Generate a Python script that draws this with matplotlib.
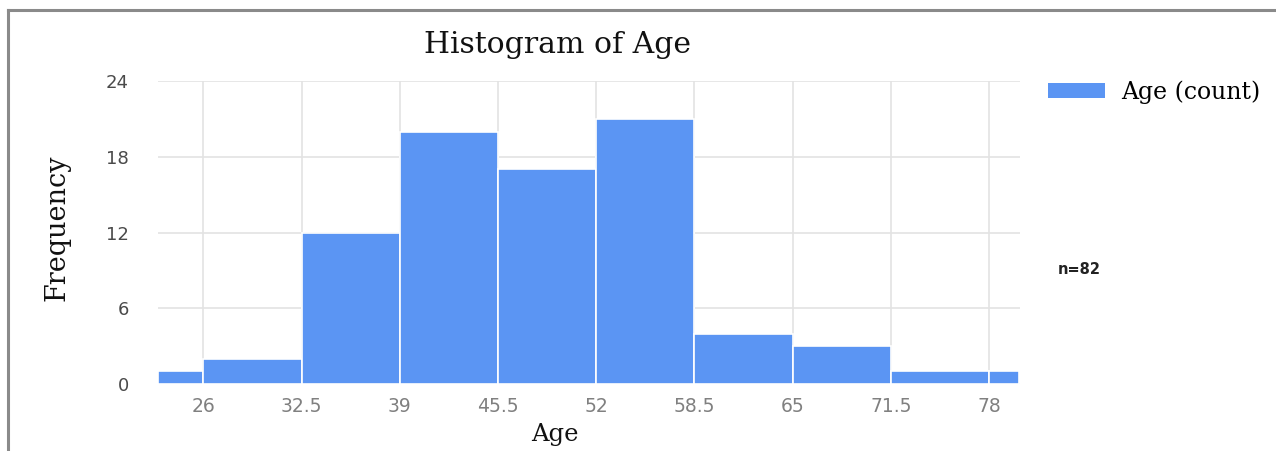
import numpy as np
import matplotlib.pyplot as plt
from matplotlib.lines import Line2D
from matplotlib.patches import Patch

# age histogram: bin edges and counts per bin
bin_edges = [23, 26, 32.5, 39, 45.5, 52, 58.5, 65, 71.5, 78, 80]
counts = [1, 2, 12, 20, 17, 21, 4, 3, 1, 1]
x_ticks = [26, 32.5, 39, 45.5, 52, 58.5, 65, 71.5, 78]
x_labels = ['26', '32.5', '39', '45.5', '52', '58.5', '65', '71.5', '78']
y_ticks = [0, 6, 12, 18, 24]
n_total = sum(counts)

bar_color = '#5b95f3'
grid_color = '#e3e3e3'
serif = 'DejaVu Serif'
W, H = 1276, 451

fig = plt.figure(figsize=(12.76, 4.51), dpi=100)
ax = fig.add_axes([158 / W, 1 - 384 / H, 862 / W, 303 / H])

left = np.array(bin_edges[:-1])
widths = np.diff(bin_edges)
ax.bar(left, counts, width=widths, align='edge', color=bar_color,
       edgecolor='white', linewidth=1.2, zorder=3)

ax.set_xlim(23, 80.05)
ax.set_ylim(0, 24)
ax.set_xticks(x_ticks)
ax.set_xticklabels(x_labels)
ax.set_yticks(y_ticks)
ax.grid(True, color=grid_color, linewidth=1.2, zorder=0)
ax.tick_params(length=0)
ax.tick_params(axis='x', pad=9, labelsize=13.5, labelcolor='#808080')
ax.tick_params(axis='y', pad=21, labelsize=13, labelcolor='#4a4a4a')
for s in ax.spines.values():
    s.set_visible(False)

fig.text(558 / W, 1 - 45 / H, 'Histogram of Age', family=serif, fontsize=21.5,
         ha='center', va='center', color='#111111')
ax.set_xlabel('Age', family=serif, fontsize=17.5, color='#111111')
ax.xaxis.set_label_coords((555 - 158) / 862, (384 - 434) / 303)
ax.xaxis.label.set_va('center')
ax.set_ylabel('Frequency', family=serif, fontsize=19.5, color='#111111')
ax.yaxis.set_label_coords((57 - 158) / 862, 0.5 + (384 - 228 - 151.5) / 303)
ax.yaxis.label.set_va('center')

handles = [Patch(facecolor=bar_color, edgecolor='none', label='Age (count)')]
fig.legend(handles=handles, loc='upper left', bbox_to_anchor=(1048 / W, 1 - 80 / H),
           frameon=False, handlelength=2.4, handleheight=0.62,
           borderpad=0, borderaxespad=0, handletextpad=0.7,
           prop={'family': serif, 'size': 17})

fig.text(1058 / W, 1 - 270 / H, 'n=%d' % n_total, family='DejaVu Sans', weight='bold',
         fontsize=10.5, color='#222222', va='center')

# outer frame (top and left edges only)
fig.add_artist(Line2D([8 / W, 8 / W], [0, 1 - 10 / H],
                      transform=fig.transFigure, color='#8a8a8a', linewidth=2.2))
fig.add_artist(Line2D([8 / W, 1], [1 - 10 / H, 1 - 10 / H],
                      transform=fig.transFigure, color='#8a8a8a', linewidth=2.2))

fig.savefig('out.png', dpi=100)
